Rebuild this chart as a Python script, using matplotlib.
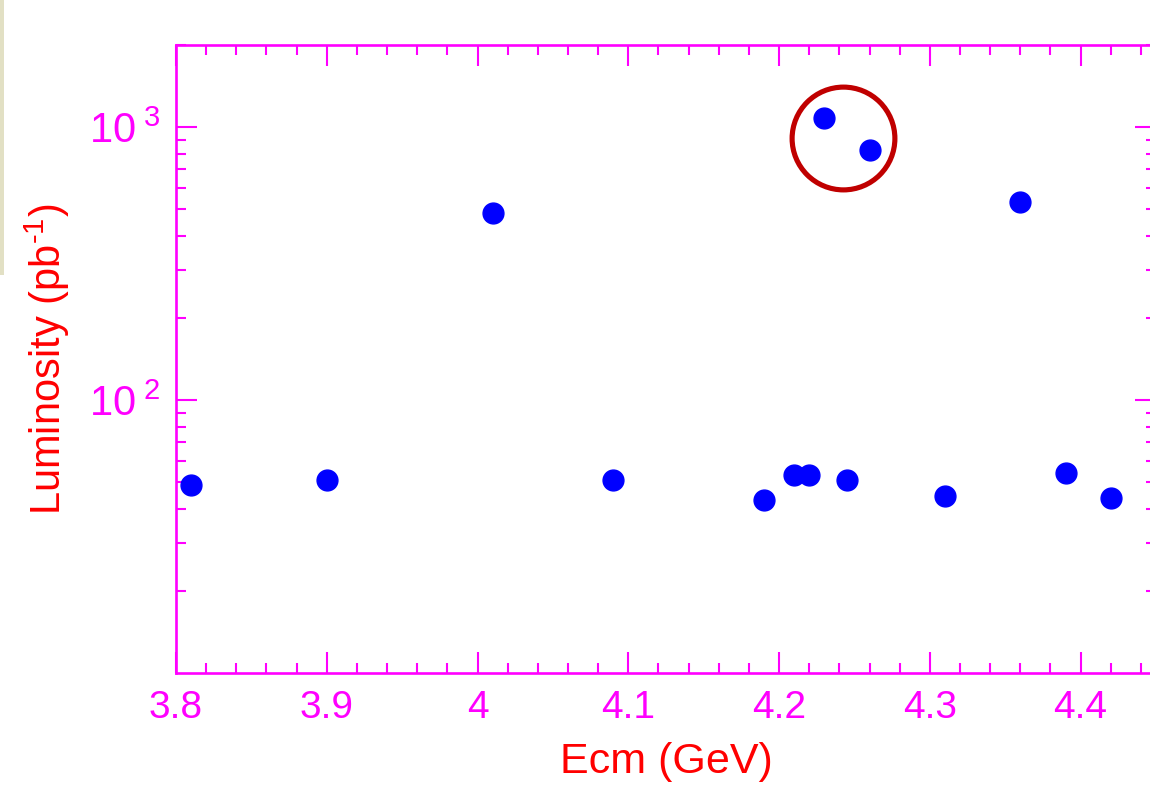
import matplotlib
matplotlib.use('Agg')
import matplotlib.pyplot as plt
from matplotlib.patches import Rectangle
from matplotlib.ticker import MultipleLocator, LogLocator, FixedLocator, FixedFormatter, NullFormatter

plt.rcParams['font.family'] = ['Liberation Sans', 'DejaVu Sans']
plt.rcParams['mathtext.fontset'] = 'custom'
plt.rcParams['mathtext.rm'] = 'Liberation Sans'
plt.rcParams['mathtext.it'] = 'Liberation Sans'

# centre-of-mass energies (GeV) and integrated luminosity (pb^-1)
ecm = [3.81, 3.90, 4.01, 4.09, 4.19, 4.21, 4.22, 4.23, 4.245, 4.26, 4.31, 4.36, 4.39, 4.42]
lumi = [49, 51, 485, 51, 43, 53, 53, 1080, 51, 822, 44.5, 533, 54, 43.8]

# highlighted pair of high-statistics points
ring_x = 4.2422
ring_y = 914

xticks = [3.8, 3.9, 4.0, 4.1, 4.2, 4.3, 4.4]
xlabels = ['3.8', '3.9', '4', '4.1', '4.2', '4.3', '4.4']
yticks = [100, 1000]
ylabels = [r'$10^{\ 2}$', r'$10^{\ 3}$']

MAG = '#FF00FF'

fig = plt.figure(figsize=(11.5, 7.88), dpi=100)
fig.patch.set_facecolor('white')

# thin beige strip on the left edge
fig.patches.append(Rectangle((0, 1 - 275 / 788), 4 / 1150, 275 / 788,
                             transform=fig.transFigure, facecolor='#E2E0C4',
                             edgecolor='none'))

ax = fig.add_axes([176 / 1150, 1 - 673 / 788, 980 / 1150, 628 / 788])
ax.set_yscale('log')
ax.set_xlim(3.8, 4.45)
ax.set_ylim(10, 2000)

ax.plot(ecm, lumi, 'o', color='#0000FF', ms=15, mec='#0000FF', clip_on=False, zorder=3)
ax.plot([ring_x], [ring_y], 'o', ms=74, mfc='none', mec='#C00000', mew=3.7, zorder=4)

for s in ax.spines.values():
    s.set_color(MAG)
    s.set_linewidth(1.9)

ax.xaxis.set_major_locator(FixedLocator(xticks))
ax.xaxis.set_major_formatter(FixedFormatter(xlabels))
ax.xaxis.set_minor_locator(MultipleLocator(0.02))
ax.yaxis.set_major_locator(FixedLocator(yticks))
ax.yaxis.set_major_formatter(FixedFormatter(ylabels))
ax.yaxis.set_minor_locator(LogLocator(base=10, subs=range(2, 10)))
ax.yaxis.set_minor_formatter(NullFormatter())

ax.tick_params(which='both', direction='in', top=True, right=True, color=MAG, width=1.5)
ax.tick_params(which='major', length=15)
ax.tick_params(which='minor', length=7.2)
ax.tick_params(axis='x', which='major', labelsize=28, labelcolor=MAG, pad=12)
ax.tick_params(axis='y', which='major', labelsize=30, labelcolor=MAG, pad=11)

ax.set_xlabel('Ecm (GeV)', color='#FF0000', fontsize=31, labelpad=12)
ax.set_ylabel(r'Luminosity (pb$^{\text{-}1}$)', color='#FF0000', fontsize=30, labelpad=12)

fig.savefig('out.png', dpi=100)
